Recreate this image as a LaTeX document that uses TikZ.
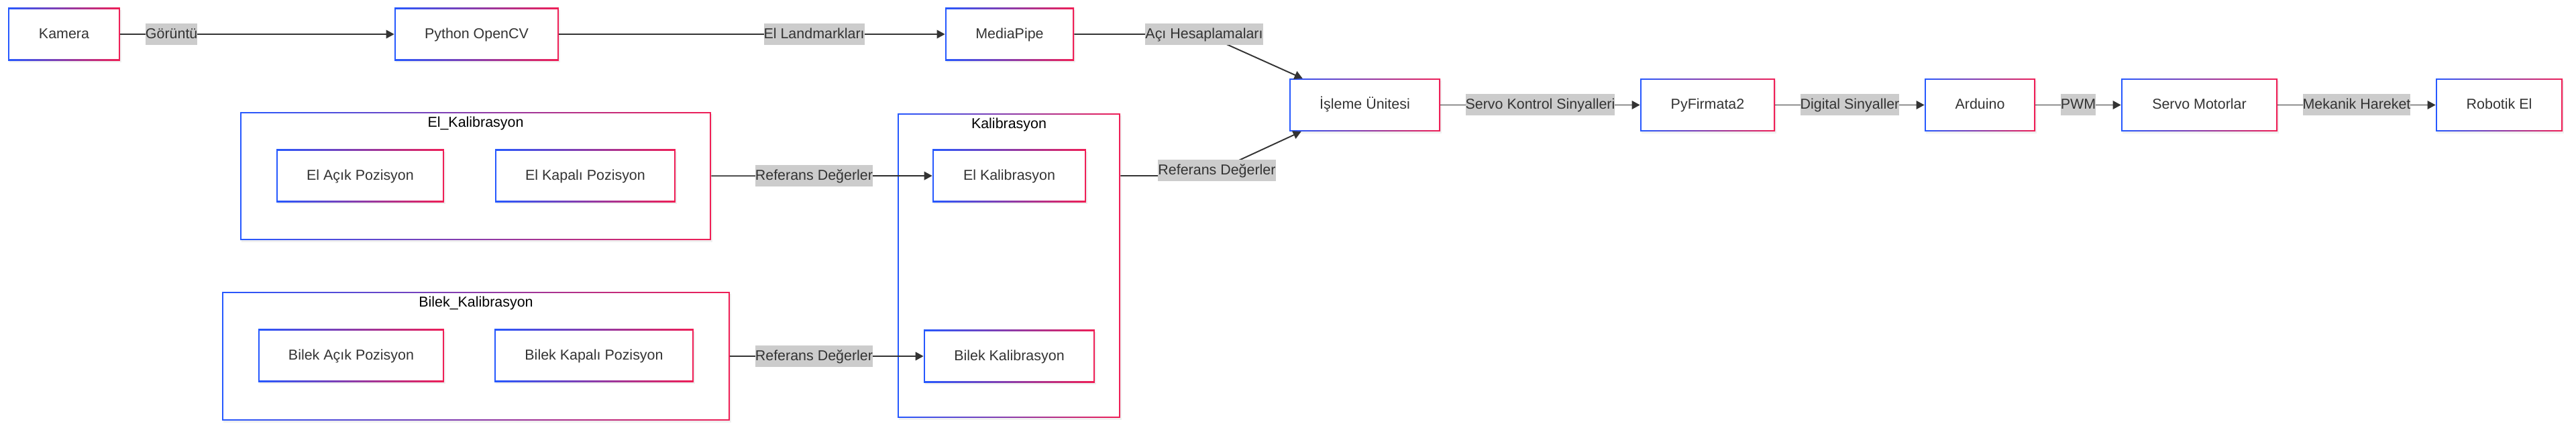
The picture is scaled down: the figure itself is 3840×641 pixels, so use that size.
\documentclass[tikz,border=0pt]{standalone}
\usepackage{fontspec}
\setmainfont{Liberation Sans}
\usetikzlibrary{arrows.meta,shadows}
\definecolor{mblue}{RGB}{37,88,255}
\definecolor{mred}{RGB}{240,30,85}
\definecolor{txtgray}{RGB}{51,51,51}
\definecolor{lblgray}{RGB}{204,204,204}

\begin{document}
\begin{tikzpicture}
[
    x=0.02cm, y=-0.02cm,
    gbox/.style={rectangle, left color=mblue, right color=mred, text=txtgray,
        minimum height=1.57cm, inner sep=0pt, text height=0.9em, text depth=0.2em,
        font=\fontsize{12.2}{14.6}\selectfont,
        drop shadow={opacity=0.12, shadow xshift=0.04cm, shadow yshift=-0.06cm},
        path picture={\fill[white] ([shift={(1pt,-1pt)}]path picture bounding box.north west)
            rectangle ([shift={(-1pt,1pt)}]path picture bounding box.south east);}},
    cluster/.style={gbox, minimum height=3.82cm},
    ctitle/.style={text=black, inner sep=0pt, text height=0.9em, text depth=0.2em,
        font=\fontsize{12.2}{14.6}\selectfont},
    lbl/.style={fill=lblgray, text=txtgray, inner xsep=0pt, inner ysep=0pt,
        minimum height=0.64cm, text height=0.9em, text depth=0.2em,
        font=\fontsize{12.2}{14.6}\selectfont},
    arr/.style={draw=txtgray, line width=1.1pt, -{Triangle[length=0.24cm, width=0.25cm]}},
]
\useasboundingbox (0,0) rectangle (3840,641);

% groups
\node[cluster, minimum width=14.04cm] (cElKal) at (709,262.5) {};
\node[ctitle] (tElKal) at ([yshift=-0.33cm]cElKal.north) {El\_Kalibrasyon};
\node[cluster, minimum width=15.14cm, minimum height=3.84cm] (cBilekKal) at (709.5,531) {};
\node[ctitle] (tBilekKal) at ([yshift=-0.34cm]cBilekKal.north) {Bilek\_Kalibrasyon};
\node[cluster, minimum width=6.64cm, minimum height=9.08cm] (cKal) at (1504,396) {};
\node[ctitle] (tKal) at ([yshift=-0.34cm]cKal.north) {Kalibrasyon};

% main row
\node[gbox, minimum width=3.34cm] (kamera) at (95.5,51) {Kamera};
\node[gbox, minimum width=4.9cm] (opencv) at (710.5,51) {Python OpenCV};
\node[gbox, minimum width=3.84cm] (mediapipe) at (1505,51) {MediaPipe};
\node[gbox, minimum width=4.5cm] (isleme) at (2034.5,156.5) {İşleme Ünitesi};
\node[gbox, minimum width=4.02cm] (pyfirmata) at (2545.5,156.5) {PyFirmata2};
\node[gbox, minimum width=3.3cm] (arduino) at (2951.5,156.5) {Arduino};
\node[gbox, minimum width=4.66cm] (servo) at (3278.5,156.5) {Servo Motorlar};
\node[gbox, minimum width=3.78cm] (robotik) at (3725.5,156.5) {Robotik El};

% calibration nodes
\node[gbox, minimum width=5cm] (elacik) at (537,262) {El Açık Pozisyon};
\node[gbox, minimum width=5.38cm] (elkapali) at (872.5,262) {El Kapalı Pozisyon};
\node[gbox, minimum width=4.58cm] (elkal) at (1504.5,262) {El Kalibrasyon};
\node[gbox, minimum width=5.54cm] (bilekacik) at (523.5,530) {Bilek Açık Pozisyon};
\node[gbox, minimum width=5.94cm] (bilekkapali) at (885.5,530) {Bilek Kapalı Pozisyon};
\node[gbox, minimum width=5.1cm] (bilekkal) at (1504.5,531) {Bilek Kalibrasyon};

% edges
\draw[arr] (kamera) -- node[lbl, pos=0.187] (lGoruntu) {Görüntü} (opencv);
\draw[arr] (opencv) -- node[lbl, pos=0.661] (lLandmark) {El Landmarkları} (mediapipe);
\coordinate (kAci) at (1795,51);
\draw[arr] (mediapipe) -- (kAci) node[lbl] (lAci) {Açı Hesaplamaları}
    -- ([xshift=0.4cm]isleme.north west);
\draw[arr] (isleme) -- node[lbl] (lServo) {Servo Kontrol Sinyalleri} (pyfirmata);
\draw[arr] (pyfirmata) -- node[lbl] (lDigital) {Digital Sinyaller} (arduino);
\draw[arr] (arduino) -- node[lbl] (lPwm) {PWM} (servo);
\draw[arr] (servo) -- node[lbl] (lMekanik) {Mekanik Hareket} (robotik);
\draw[arr] (cElKal) -- node[lbl, pos=0.465] (lRefEl) {Referans Değerler} (elkal);
\draw[arr] (cBilekKal) -- node[lbl, pos=0.434] (lRefBilek) {Referans Değerler} (bilekkal);
\coordinate (kRef) at (1797,262);
\draw[arr] (cKal.east |- elkal) -- (kRef) -- ([xshift=0.36cm]isleme.south west);
\node[lbl] (lRefKal) at (1814,254) {Referans Değerler};
\end{tikzpicture}
\end{document}
